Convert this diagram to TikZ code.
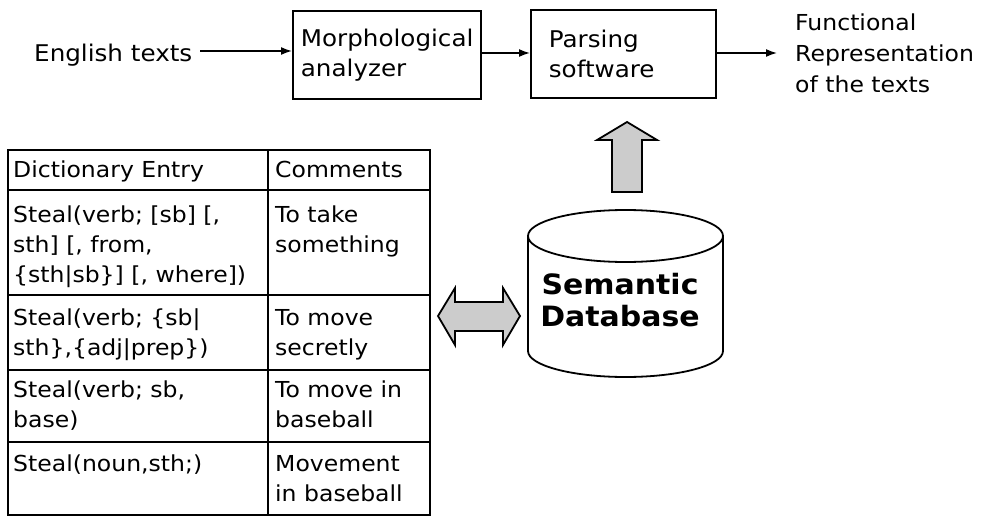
\documentclass[tikz,border=0pt]{standalone}
\usepackage{fontspec}
\setmainfont{DejaVu Sans}[FakeStretch=1.07]
\usetikzlibrary{arrows.meta}
\tikzset{
  box/.style={draw, line width=1.8pt, minimum height=88pt, inner ysep=0pt, align=left, font=\fontsize{23}{30}\selectfont},
  txt/.style={inner sep=0pt, anchor=north west, align=left, font=\fontsize{23}{31}\selectfont},
  cell/.style={inner sep=0pt, anchor=north west, align=left, font=\fontsize{22}{30}\selectfont},
  flow/.style={line width=1.6pt, -{Latex[length=11pt,width=8pt]}},
  grid/.style={line width=1.8pt},
  fat/.style={draw, line width=1.8pt, fill=gray!40, line join=miter},
}
\newcommand{\fl}{\rule{0pt}{18pt}}
\begin{document}
\begin{tikzpicture}[x=1pt,y=-1pt]
\useasboundingbox[fill=white] (0,0) rectangle (985,516);

% top row
\node[txt] (eng) at (34,43) {\fl English texts};
\node[box, minimum width=188pt, text width=172pt, inner xsep=8pt, anchor=north west] (morph) at (292,10) {Morphological\\analyzer};
\node[box, minimum width=185pt, text width=149pt, inner xsep=18pt, anchor=north west] (parse) at (530,9) {Parsing\\software};
\node[txt, font=\fontsize{22}{31}\selectfont] (func) at (795,12) {\fl Functional\\Representation\\of the texts};
\coordinate (funcin) at (777,53);

\draw[flow] (eng.east |- 0,51) ++(8,0) coordinate (engout) -- (morph.west |- engout);
\draw[flow] (morph.east |- 0,53) -- (parse.west |- 0,53);
\draw[flow] (parse.east |- funcin) -- (funcin);

% up arrow
\draw[fat] (612,192) -- (612,140) -- (597,140) -- (627,122) -- (657,140) -- (642,140) -- (642,192) -- cycle;

% cylinder
\draw[line width=1.8pt, fill=white] (528,236) -- (528,351) arc[start angle=180, end angle=360, x radius=97.5pt, y radius=26pt] -- (723,236);
\draw[line width=1.8pt] (625.5,236) ellipse [x radius=97.5pt, y radius=26pt];
\node[align=center, inner sep=0pt, font=\bfseries\fontsize{28}{32}\selectfont] (db) at (620,300) {Semantic\\Database};

% double arrow
\draw[fat] (438,316) -- (455,288) -- (455,302) -- (503,302) -- (503,288) -- (520,316) -- (503,345) -- (503,331) -- (455,331) -- (455,345) -- cycle;

% table
\draw[grid] (8,150) rectangle (430,515);
\draw[grid] (268,150) -- (268,515);
\foreach \yy in {190,295,370,442} \draw[grid] (8,\yy) -- (430,\yy);

\node[cell] (h1) at (13,159) {\fl Dictionary Entry};
\node[cell] (h2) at (275,159) {\fl Comments};
\node[cell] (a1) at (13,204) {\fl Steal(verb; [sb] [,\\sth] [, from,\\\{sth|sb\}] [, where])};
\node[cell] (b1) at (275,204) {\fl To take\\something};
\node[cell] (a2) at (13,307) {\fl Steal(verb; \{sb|\\sth\},\{adj|prep\})};
\node[cell] (b2) at (275,307) {\fl To move\\secretly};
\node[cell] (a3) at (13,379) {\fl Steal(verb; sb,\\base)};
\node[cell] (b3) at (275,379) {\fl To move in\\baseball};
\node[cell] (a4) at (13,453) {\fl Steal(noun,sth;)};
\node[cell] (b4) at (275,453) {\fl Movement\\in baseball};
\end{tikzpicture}
\end{document}
